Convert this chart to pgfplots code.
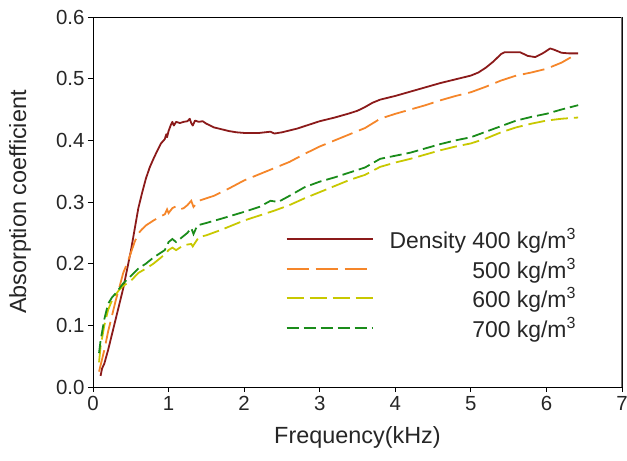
\documentclass[border=0pt]{standalone}
\usepackage{pgfplots}
\pgfplotsset{compat=1.18}
\usepackage{fontspec}
\setmainfont{Liberation Sans}
\definecolor{c400}{HTML}{8B1A1A}
\definecolor{c500}{HTML}{F5862A}
\definecolor{c600}{HTML}{C8C800}
\definecolor{c700}{HTML}{1A8C1A}
\begin{document}
\begin{tikzpicture}
\begin{axis}[
  at={(0,0)}, anchor=south west,
  scale only axis, width=529bp, height=370bp,
  xmin=0, xmax=7, ymin=0, ymax=0.6,
  xtick={0,1,...,7}, ytick={0,0.1,...,0.6},
  tick align=outside, xtick pos=left, ytick pos=left,
  major tick length=5bp,
  /pgf/number format/assume math mode=true,
  yticklabel style={/pgf/number format/.cd, fixed, fixed zerofill, precision=1},
  ticklabel style={font=\fontsize{20.5}{24}\selectfont, color=black!85},
  xticklabel style={yshift=-1bp},
  label style={font=\fontsize{23.5}{28}\selectfont, color=black!85},
  xlabel={Frequency(kHz)}, ylabel={Absorption coefficient},
  xlabel style={yshift=-9bp},
  ylabel style={at={(axis description cs:-0.138,0.5)}, anchor=center},
  axis line style={black, line width=0.8pt},
  tick style={black, line width=0.8pt},
  legend style={at={(axis cs:6.46,0.264)}, anchor=north east, draw=none, fill=none,
    font=\fontsize{23}{27}\selectfont, text=black!85, column sep=14bp, row sep=3.8bp},
  legend cell align=right,
  legend image code/.code={\draw[#1, line width=2pt] (0bp,0bp) -- (86bp,0bp);},
]
\addplot[c400, line width=1.8pt, line join=round] coordinates {
(0.10,0.018)(0.12,0.03)(0.15,0.038)(0.20,0.06)(0.25,0.085)(0.30,0.11)(0.35,0.135)
(0.40,0.16)(0.45,0.19)(0.50,0.22)(0.55,0.255)(0.60,0.29)(0.65,0.315)(0.70,0.338)
(0.75,0.356)(0.80,0.37)(0.85,0.383)(0.90,0.395)(0.95,0.402)(0.97,0.41)(0.98,0.405)
(1.00,0.415)(1.03,0.425)(1.05,0.43)(1.07,0.424)(1.10,0.43)(1.15,0.428)(1.20,0.43)
(1.25,0.431)(1.28,0.435)(1.30,0.428)(1.32,0.424)(1.35,0.432)(1.40,0.43)(1.45,0.431)
(1.50,0.427)(1.60,0.421)(1.70,0.418)(1.80,0.415)(1.90,0.413)(2.00,0.412)(2.20,0.412)
(2.35,0.414)(2.40,0.411)(2.50,0.413)(2.60,0.416)(2.70,0.419)(2.80,0.423)(2.90,0.427)
(3.00,0.431)(3.20,0.437)(3.40,0.444)(3.50,0.448)(3.60,0.454)(3.70,0.461)(3.80,0.466)
(4.00,0.472)(4.20,0.479)(4.40,0.486)(4.60,0.493)(4.80,0.499)(5.00,0.505)(5.10,0.510)
(5.20,0.518)(5.30,0.528)(5.40,0.540)(5.45,0.543)(5.55,0.543)(5.65,0.543)(5.75,0.537)
(5.85,0.535)(5.95,0.541)(6.05,0.549)(6.10,0.547)(6.20,0.542)(6.30,0.541)(6.42,0.541)
};
\addlegendentry{Density 400 kg/m\textsuperscript{3}}
\addplot[c500, line width=1.8pt, dash pattern=on 22bp off 7bp] coordinates {
(0.08,0.025)(0.10,0.035)(0.15,0.06)(0.20,0.09)(0.25,0.115)(0.30,0.14)(0.35,0.162)
(0.40,0.185)(0.45,0.2)(0.50,0.217)(0.55,0.235)(0.60,0.249)(0.65,0.256)(0.70,0.262)
(0.80,0.27)(0.90,0.277)(0.95,0.28)(0.98,0.288)(1.00,0.282)(1.05,0.29)(1.10,0.293)
(1.15,0.288)(1.20,0.29)(1.25,0.295)(1.30,0.302)(1.33,0.292)(1.40,0.302)(1.50,0.306)
(1.60,0.31)(1.80,0.322)(2.00,0.335)(2.20,0.345)(2.40,0.355)(2.60,0.365)(2.80,0.378)
(3.00,0.39)(3.20,0.40)(3.40,0.41)(3.60,0.42)(3.80,0.435)(4.00,0.443)(4.20,0.45)
(4.40,0.457)(4.60,0.465)(4.80,0.472)(5.00,0.478)(5.20,0.487)(5.40,0.497)(5.60,0.505)
(5.80,0.51)(6.00,0.516)(6.20,0.526)(6.30,0.533)(6.40,0.54)
};
\addlegendentry{500 kg/m\textsuperscript{3}}
\addplot[c600, line width=1.8pt, dash pattern=on 17bp off 6bp] coordinates {
(0.08,0.04)(0.10,0.065)(0.15,0.1)(0.20,0.125)(0.25,0.14)(0.30,0.15)(0.35,0.158)
(0.40,0.164)(0.50,0.172)(0.60,0.185)(0.70,0.192)(0.80,0.2)(0.90,0.21)(0.95,0.215)
(1.00,0.222)(1.05,0.226)(1.10,0.222)(1.20,0.23)(1.30,0.232)(1.32,0.228)(1.40,0.243)
(1.50,0.246)(1.70,0.255)(2.00,0.27)(2.20,0.278)(2.40,0.286)(2.60,0.295)(2.80,0.306)
(3.00,0.316)(3.20,0.326)(3.40,0.336)(3.60,0.344)(3.80,0.357)(4.00,0.364)(4.20,0.37)
(4.40,0.377)(4.60,0.384)(4.80,0.39)(5.00,0.395)(5.20,0.403)(5.40,0.413)(5.60,0.421)
(5.80,0.427)(6.00,0.432)(6.20,0.435)(6.42,0.437)
};
\addlegendentry{600 kg/m\textsuperscript{3}}
\addplot[c700, line width=1.8pt, dash pattern=on 12bp off 5bp] coordinates {
(0.08,0.055)(0.10,0.075)(0.15,0.11)(0.20,0.135)(0.25,0.145)(0.30,0.152)(0.35,0.16)
(0.40,0.168)(0.50,0.18)(0.60,0.192)(0.70,0.2)(0.80,0.21)(0.90,0.218)(0.95,0.222)
(1.00,0.235)(1.05,0.24)(1.10,0.235)(1.20,0.245)(1.25,0.25)(1.30,0.258)(1.33,0.248)
(1.38,0.262)(1.50,0.266)(1.70,0.273)(2.00,0.284)(2.20,0.292)(2.35,0.302)(2.45,0.300)
(2.60,0.31)(2.80,0.324)(3.00,0.333)(3.20,0.34)(3.40,0.348)(3.60,0.356)(3.80,0.37)
(4.00,0.375)(4.20,0.38)(4.40,0.387)(4.60,0.394)(4.80,0.4)(5.00,0.405)(5.20,0.414)
(5.40,0.423)(5.60,0.432)(5.80,0.438)(6.00,0.443)(6.20,0.45)(6.42,0.457)
};
\addlegendentry{700 kg/m\textsuperscript{3}}
\draw[black!55, line width=1.6pt] (rel axis cs:1,0) -- (rel axis cs:1,1);
\end{axis}
\pgfresetboundingbox
\path (-93bp,-74bp) rectangle (534bp,387bp);
\end{tikzpicture}
\end{document}
